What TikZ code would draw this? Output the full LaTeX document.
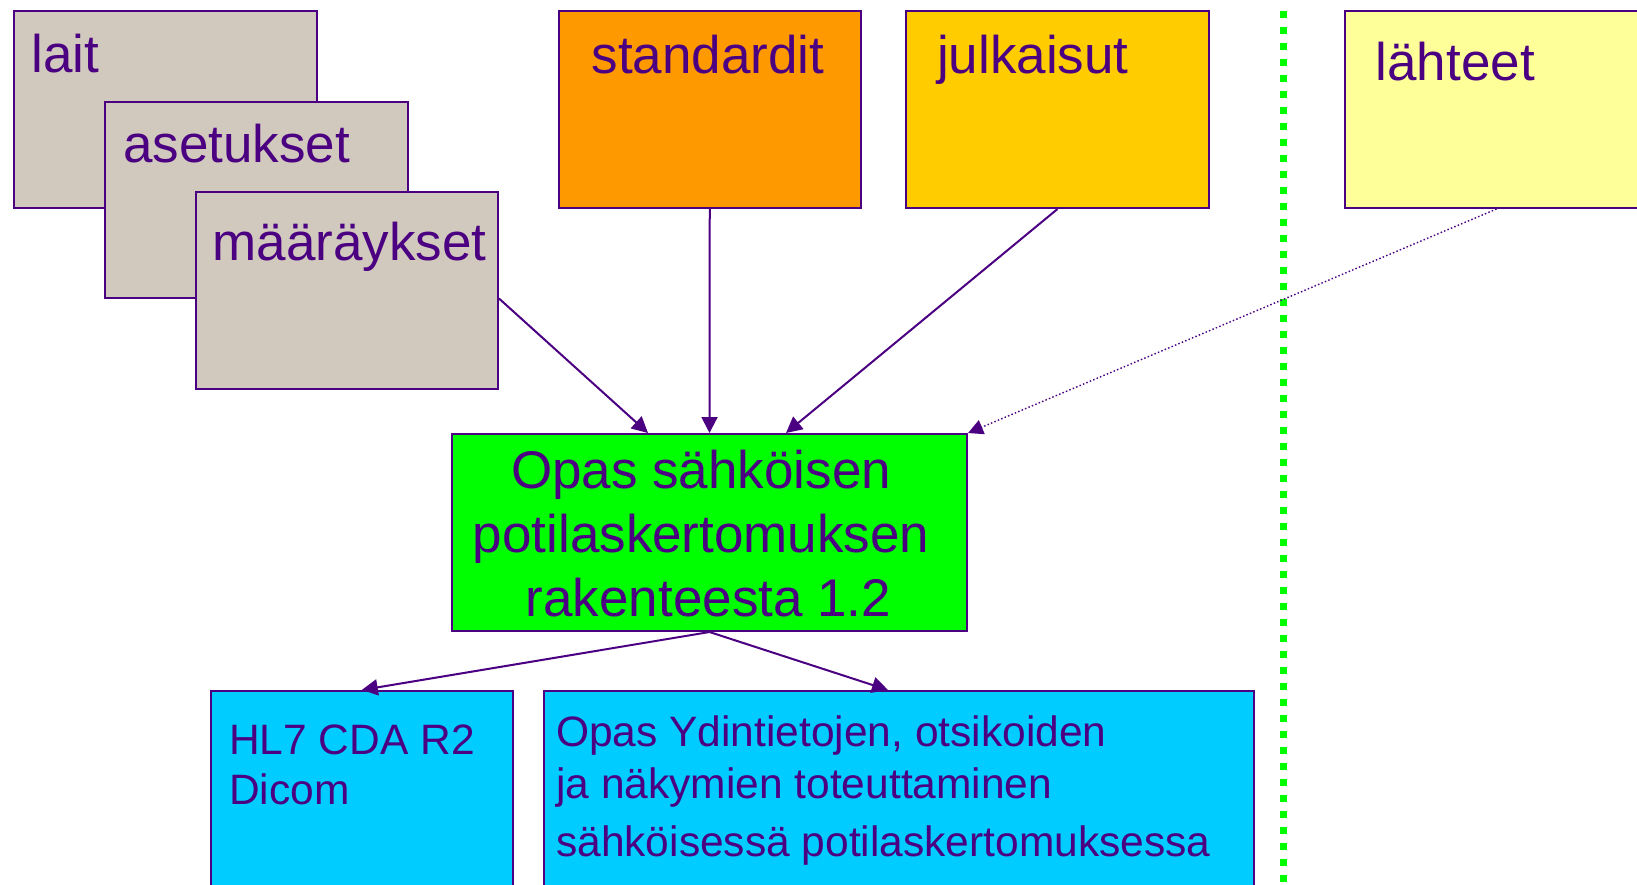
\documentclass[tikz,border=0pt]{standalone}
\usepackage{fontspec}
\setmainfont{Liberation Sans}
\usetikzlibrary{arrows.meta}
\definecolor{ink}{RGB}{75,0,130}
\definecolor{graybox}{RGB}{209,201,189}
\definecolor{orangebox}{RGB}{255,153,0}
\definecolor{goldbox}{RGB}{255,204,0}
\definecolor{paleyellow}{RGB}{255,255,153}
\definecolor{greenbox}{RGB}{0,255,0}
\definecolor{bluebox}{RGB}{0,204,255}
\definecolor{sepgreen}{RGB}{0,255,0}
\begin{document}
\begin{tikzpicture}[x=1pt,y=-1pt,
  box/.style={draw=ink, line width=2pt, rectangle, inner sep=0pt, anchor=north west},
  bigtext/.style={text=ink, font=\fontsize{53}{64}\selectfont, inner sep=0pt},
  smalltext/.style={text=ink, font=\fontsize{42.5}{51}\selectfont, inner sep=0pt, align=left},
  conn/.style={draw=ink, line width=2pt, -{Triangle[length=16pt,width=16pt]}},
  dotconn/.style={draw=ink, line width=1.4pt, dash pattern=on 1.5pt off 2.2pt, -{Triangle[length=15pt,width=15pt]}},
]
\useasboundingbox (0,0) rectangle (1637,884);

% stacked grey boxes
\node[box, fill=graybox, minimum width=303pt, minimum height=197pt] (lait) at (13,10) {};
\node[bigtext, anchor=base west] (laitT) at (31.5,72) {lait};
\node[box, fill=graybox, minimum width=303pt, minimum height=196pt] (aset) at (104,101) {};
\node[bigtext, anchor=base west] (asetT) at (123,162) {asetukset};
\node[box, fill=graybox, minimum width=302pt, minimum height=197pt] (maar) at (195,191) {};
\node[bigtext, anchor=base west] (maarT) at (212.5,260) {määräykset};

% top boxes
\node[box, fill=orangebox, minimum width=302.5pt, minimum height=197pt] (stand) at (557.5,10) {};
\node[bigtext, anchor=base west] (standT) at (591.5,73) {standardit};
\node[box, fill=goldbox, minimum width=303pt, minimum height=197pt] (julk) at (905,10) {};
\node[bigtext, anchor=base west] (julkT) at (937,73) {julkaisut};
\node[box, fill=paleyellow, minimum width=303pt, minimum height=197pt] (laht) at (1344,10) {};
\node[bigtext, anchor=base west] (lahtT) at (1375.5,80) {lähteet};

% central box
\node[box, fill=greenbox, minimum width=515pt, minimum height=197pt] (guide) at (451,433) {};
\node[bigtext, align=center, anchor=base] (guideT) at (708.5,616)
  {Opas sähköisen\rule{0.278em}{0pt}\\potilaskertomuksen\rule{0.278em}{0pt}\\rakenteesta 1.2};

% bottom boxes
\node[box, fill=bluebox, minimum width=301.5pt, minimum height=220pt] (hl7) at (210,690) {};
\node[smalltext, anchor=base west] (hl7T) at (229,804) {HL7 CDA R2\\[-1pt]Dicom};
\node[box, fill=bluebox, minimum width=710pt, minimum height=220pt] (core) at (543,690) {};
\node[smalltext, anchor=base west] (coreT) at (556,856)
  {Opas Ydintietojen, otsikoiden\\[1.5pt]ja näkymien toteuttaminen\\[6.5pt]sähköisessä potilaskertomuksessa};

% green dotted separator
\coordinate (sepTop) at (1283.5,10.5);
\coordinate (sepBot) at (1283.5,900);
\draw[sepgreen, line width=7pt, dash pattern=on 7.5pt off 8.5pt] (sepTop) -- (sepBot);

% connectors
\draw[conn] ([yshift=-8pt]maar.east) -- ([xshift=-61.5pt]guide.north);
\draw[conn] (stand.south) -- (guide.north);
\draw[conn] (julk.south) -- ([xshift=76.5pt]guide.north);
\draw[dotconn] (laht.south) -- (guide.north east);
\draw[conn] (guide.south) -- (hl7.north);
\draw[conn] (guide.south) -- ([xshift=-11pt]core.north);
\end{tikzpicture}
\end{document}
